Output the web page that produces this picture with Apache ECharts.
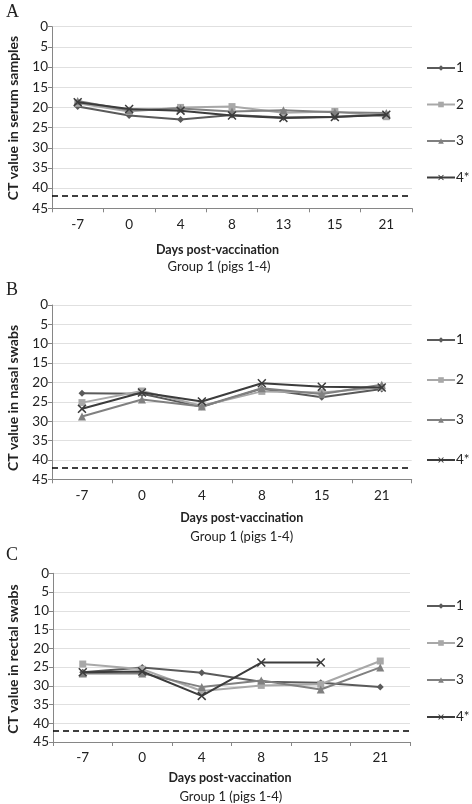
<!DOCTYPE html>
<html>
<head>
<meta charset="utf-8">
<script src="https://cdn.jsdelivr.net/npm/echarts@6/dist/echarts.min.js"></script>
<style>
html,body{margin:0;padding:0;background:#fff;}
#chart{width:472px;height:804px;}
</style>
</head>
<body>
<div id="chart"></div>
<script>
// ---- data ----
const daysSerum = ['-7', '0', '4', '8', '13', '15', '21'];
const daysSwab = ['-7', '0', '4', '8', '15', '21'];
const pigNames = ['1', '2', '3', '4*'];

const serum1 = [19.8, 22.0, 23.0, 21.9, 22.5, 22.3, 21.8];
const serum2 = [19.0, 21.0, 20.0, 19.8, 21.3, 21.0, 22.3];
const serum3 = [18.4, 20.7, 20.3, 21.0, 20.7, 21.2, 21.4];
const serum4 = [18.7, 20.4, 20.8, 22.0, 22.6, 22.4, 21.8];

const nasal1 = [22.8, 22.9, 26.3, 21.6, 23.8, 21.7];
const nasal2 = [25.2, 22.2, 26.0, 22.3, 22.6, 21.3];
const nasal3 = [28.8, 24.4, 26.2, 21.5, 23.0, 20.6];
const nasal4 = [26.8, 22.6, 24.9, 20.2, 21.1, 21.3];

const rectal1 = [26.4, 25.1, 26.5, 28.9, 29.2, 30.3];
const rectal2 = [24.2, 25.6, 31.4, 29.9, 29.6, 23.4];
const rectal3 = [26.7, 26.7, 30.3, 28.6, 31.0, 25.1];
const rectal4 = [26.4, 26.2, 32.7, 23.8, 23.8, null];

const yMin = 0, yMax = 45, yStep = 5;
const detectionLimit = 42;

const yTitles = ['CT value in serum samples', 'CT value in nasal swabs', 'CT value in rectal swabs'];
const panelLetters = ['A', 'B', 'C'];
const xTitle = 'Days post-vaccination';
const groupLabel = 'Group 1 (pigs 1-4)';

// ---- styles ----
const FONT = 'Lato, "Open Sans", sans-serif';
const colors = ['#5a5a5a', '#a8a8a8', '#808080', '#3c3c3c'];
const xPath = 'path://M0,1.2L1.2,0L5,3.8L8.8,0L10,1.2L6.2,5L10,8.8L8.8,10L5,6.2L1.2,10L0,8.8L3.8,5Z';
const symbols = ['diamond', 'rect', 'triangle', xPath];
const symSizes = [7, 7, 8, 9];

const grids = [
  {left: 52, top: 26.7, width: 360, height: 181.6},
  {left: 52, top: 305, width: 359.7, height: 174.3},
  {left: 53, top: 573.3, width: 357, height: 168.7}
];
const legendTops = [61, 333, 599];
const legendGaps = [22.5, 26, 23];
const yTitleCenters = [118, 398, 659];
const xTitleY = [250, 518.3, 778.3];
const xTitleX = [217.5, 241.7, 230];
const groupX = [219, 241.7, 230.8];
const groupY = [266.5, 536.7, 796.7];
const letterY = [12, 290, 555];

const panelData = [
  [serum1, serum2, serum3, serum4],
  [nasal1, nasal2, nasal3, nasal4],
  [rectal1, rectal2, rectal3, rectal4]
];
const panelCats = [daysSerum, daysSwab, daysSwab];

const xAxes = [], yAxes = [], series = [], legends = [], graphics = [];

panelData.forEach((sets, p) => {
  xAxes.push({
    type: 'category', gridIndex: p, data: panelCats[p], boundaryGap: true,
    axisLine: {onZero: false, lineStyle: {color: '#868686', width: 1}},
    axisTick: {show: true, length: 4, inside: false, lineStyle: {color: '#868686'}},
    axisLabel: {color: '#222', fontFamily: FONT, fontSize: 13.5, margin: 9},
    splitLine: {show: false}
  });
  yAxes.push({
    type: 'value', gridIndex: p, inverse: true, min: yMin, max: yMax, interval: yStep,
    axisLine: {show: true, lineStyle: {color: '#868686', width: 1}},
    axisTick: {show: true, length: 4, lineStyle: {color: '#868686'}},
    axisLabel: {color: '#222', fontFamily: FONT, fontSize: 13.5, margin: 4},
    splitLine: {show: true, lineStyle: {color: '#e0e0e0', width: 1}}
  });
  sets.forEach((vals, i) => {
    const s = {
      name: pigNames[i], type: 'line', xAxisIndex: p, yAxisIndex: p,
      data: vals, symbol: symbols[i], symbolSize: symSizes[i],
      showSymbol: true, connectNulls: false, animation: false,
      lineStyle: {color: colors[i], width: 2},
      itemStyle: {color: colors[i]},
      z: 3 + i
    };
    if (i === 0) {
      s.markLine = {
        silent: true, symbol: ['none', 'none'], label: {show: false},
        lineStyle: {color: '#000', type: [6, 4], width: 1.5},
        data: [{yAxis: detectionLimit}]
      };
    }
    series.push(s);
  });
  legends.push({
    orient: 'vertical', left: 426, top: legendTops[p], itemGap: legendGaps[p],
    itemWidth: 28, itemHeight: 7, data: pigNames, selectedMode: false,
    textStyle: {fontFamily: FONT, fontSize: 13.5, color: '#222', padding: [0, 0, 0, -4]},
    padding: 0
  });
  graphics.push({
    type: 'text', x: 13, y: yTitleCenters[p], rotation: Math.PI / 2,
    style: {text: yTitles[p], fontFamily: FONT, fontWeight: 'bold', fontSize: 14, fill: '#222', align: 'center', verticalAlign: 'middle'}
  });
  graphics.push({
    type: 'text', x: xTitleX[p], y: xTitleY[p],
    style: {text: xTitle, fontFamily: FONT, fontWeight: 'bold', fontSize: 12.5, fill: '#222', align: 'center', verticalAlign: 'middle'}
  });
  graphics.push({
    type: 'text', x: groupX[p], y: groupY[p],
    style: {text: groupLabel, fontFamily: FONT, fontSize: 13, fill: '#222', align: 'center', verticalAlign: 'middle'}
  });
  graphics.push({
    type: 'text', x: 6, y: letterY[p],
    style: {text: panelLetters[p], fontFamily: '"Liberation Serif", "DejaVu Serif", serif', fontSize: 18, fill: '#222', align: 'left', verticalAlign: 'middle'}
  });
});

const chart = echarts.init(document.getElementById('chart'), null, {renderer: 'canvas'});
chart.setOption({
  animation: false,
  backgroundColor: '#fff',
  grid: grids,
  xAxis: xAxes,
  yAxis: yAxes,
  legend: legends,
  series: series,
  graphic: graphics
});
</script>
</body>
</html>
